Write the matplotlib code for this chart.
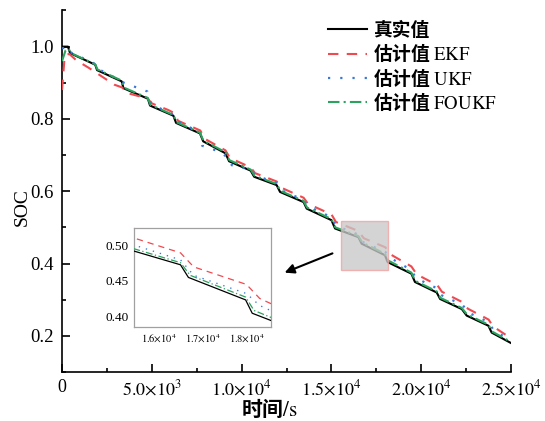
"""SOC estimation comparison: true value vs EKF / UKF / FOUKF estimates."""

import matplotlib
matplotlib.use('Agg')
import matplotlib.pyplot as plt
from matplotlib.patches import Rectangle
from matplotlib.ticker import FixedLocator, MultipleLocator, FuncFormatter

# ---- data ----
t_true = [0, 330, 450, 1850, 1950, 3320, 3420, 4780, 4900, 6200, 6350, 7680, 7860,
          9100, 9300, 10500, 10700, 11950, 12140, 13450, 13620, 15000, 15200, 16500,
          16680, 17980, 18130, 19450, 19650, 20860, 21050, 22260, 22530, 23740, 23920, 25000]
soc_true = [1.000, 1.000, 0.982, 0.950, 0.935, 0.904, 0.885, 0.856, 0.837, 0.809, 0.789,
            0.760, 0.738, 0.705, 0.683, 0.657, 0.640, 0.617, 0.598, 0.570, 0.552, 0.520,
            0.497, 0.473, 0.455, 0.423, 0.404, 0.372, 0.349, 0.320, 0.302, 0.274, 0.256,
            0.228, 0.209, 0.180]

t_ekf = [0, 150, 400, 800, 1500, 2200, 2900, 3350, 3600, 4200, 4750, 5000, 5900, 6300,
         6450, 7700, 7950, 9100, 9350, 10500, 10750, 11950, 12200, 13450, 13700, 15000,
         15250, 16500, 16800, 18000, 18300, 19450, 19750, 20900, 21150, 22300, 22600,
         23750, 24000, 25000]
soc_ekf = [0.880, 0.975, 0.980, 0.962, 0.941, 0.918, 0.895, 0.887, 0.872, 0.864, 0.857,
           0.843, 0.825, 0.815, 0.795, 0.768, 0.745, 0.713, 0.692, 0.666, 0.650, 0.627,
           0.610, 0.582, 0.565, 0.536, 0.515, 0.490, 0.470, 0.445, 0.425, 0.392, 0.370,
           0.340, 0.322, 0.293, 0.275, 0.245, 0.226, 0.193]

t_ukf = [0, 300, 450, 1850, 1950, 3300, 3450, 4750, 4900, 5000, 6200, 6400, 7700, 7800,
         8800, 9300, 9450, 10500, 10750, 11950, 12200, 13450, 13650, 15000, 15250, 16500,
         16800, 18000, 18300, 19450, 19700, 20900, 21100, 22300, 22600, 23750, 24000, 25000]
soc_ukf = [0.995, 1.000, 0.985, 0.952, 0.940, 0.905, 0.900, 0.876, 0.850, 0.840, 0.812,
           0.795, 0.762, 0.726, 0.709, 0.690, 0.672, 0.660, 0.645, 0.622, 0.603, 0.576,
           0.560, 0.528, 0.505, 0.480, 0.458, 0.432, 0.415, 0.382, 0.360, 0.331, 0.313,
           0.286, 0.265, 0.238, 0.218, 0.185]

t_fo = [0, 200, 350, 500, 1850, 1970, 3320, 3430, 4780, 4920, 6200, 6370, 7680, 7870,
        9100, 9320, 10500, 10720, 11950, 12160, 13450, 13640, 15000, 15220, 16500, 16720,
        17980, 18170, 19450, 19670, 20860, 21070, 22260, 22550, 23740, 23940, 25000]
soc_fo = [0.960, 0.990, 0.995, 0.982, 0.951, 0.937, 0.906, 0.887, 0.858, 0.839, 0.811,
          0.791, 0.762, 0.740, 0.708, 0.686, 0.660, 0.643, 0.620, 0.601, 0.573, 0.555,
          0.523, 0.500, 0.476, 0.458, 0.427, 0.408, 0.375, 0.352, 0.323, 0.305, 0.277,
          0.259, 0.231, 0.212, 0.183]

labels = ['真实值', r'估计值 $\mathrm{EKF}$', r'估计值 $\mathrm{UKF}$', r'估计值 $\mathrm{FOUKF}$']
x_ticks = [0, 5000, 10000, 15000, 20000, 25000]
inset_x_ticks = [16000, 17000, 18000]
inset_y_ticks = [0.40, 0.45, 0.50]

RED = '#ef4a50'
BLUE = '#3b78d6'
GREEN = '#2ca25f'
CJK = 'Noto Sans CJK SC'

plt.rcParams.update({
    'font.family': ['Liberation Serif', CJK],
    'mathtext.fontset': 'stix',
    'axes.linewidth': 1.2,
})


def sci_fmt(v, pos=None):
    if v == 0:
        return '0'
    exp = len(str(int(v))) - 1
    mant = v / 10 ** exp
    return r'$%.1f{\times}10^{%d}$' % (mant, exp)


def draw_series(ax, lw_scale=1.0):
    ax.plot(t_true, soc_true, color='black', lw=1.5 * lw_scale, label=labels[0], zorder=3)
    ax.plot(t_ekf, soc_ekf, color=RED, lw=1.5 * lw_scale, dashes=(5, 4), label=labels[1], zorder=4)
    ax.plot(t_ukf, soc_ukf, color=BLUE, lw=1.6 * lw_scale, dashes=(1, 4.5), label=labels[2], zorder=4)
    ax.plot(t_fo, soc_fo, color=GREEN, lw=1.5 * lw_scale, dashes=(5.5, 2, 1, 2), label=labels[3], zorder=5)


fig = plt.figure(figsize=(5.45, 4.21), dpi=100)
ax = fig.add_axes([0.1138, 0.1164, 0.8239, 0.8587])
draw_series(ax)

ax.set_xlim(0, 25000)
ax.set_ylim(0.1, 1.1)
ax.spines['top'].set_visible(False)
ax.spines['right'].set_visible(False)
ax.xaxis.set_major_locator(FixedLocator(x_ticks))
ax.xaxis.set_minor_locator(MultipleLocator(2500))
ax.xaxis.set_major_formatter(FuncFormatter(sci_fmt))
ax.yaxis.set_major_locator(MultipleLocator(0.2))
ax.yaxis.set_minor_locator(MultipleLocator(0.1))
ax.yaxis.set_major_formatter(FuncFormatter(lambda v, p: '%.1f' % v))
ax.tick_params(which='both', direction='in', width=1.2)
ax.tick_params(axis='x', labelsize=13, pad=5)
ax.tick_params(axis='y', labelsize=13.5, pad=6)
ax.tick_params(which='major', length=6)
ax.tick_params(which='minor', length=3)

ax.set_xlabel(r'时间$\mathrm{/s}$', family=CJK, weight='bold', fontsize=15)
ax.xaxis.set_label_coords(0.462, -0.070)
ax.set_ylabel('SOC', fontsize=14)
ax.yaxis.set_label_coords(-0.07, 0.455)

ax.legend(loc='upper left', bbox_to_anchor=(328 / 545, 1 - 21 / 421),
          bbox_transform=fig.transFigure, frameon=False, borderpad=0, borderaxespad=0,
          handlelength=2.1, handletextpad=0.3, labelspacing=0.12,
          prop={'family': CJK, 'weight': 'bold', 'size': 13.5})

# zoom window and arrow
ax.add_patch(Rectangle((15535, 0.381), 2615, 0.138, facecolor='#c8c8c8', alpha=0.78,
                       edgecolor='#f2a0a0', lw=1.0, zorder=6))
ax.annotate('', xy=(12250, 0.372), xytext=(15200, 0.431),
            arrowprops=dict(arrowstyle='-|>', color='black', lw=1.5, mutation_scale=14),
            zorder=7)

# inset
axin = fig.add_axes([0.2464, 0.2226, 0.2503, 0.2352])
draw_series(axin, lw_scale=0.6)
axin.set_xlim(15450, 18550)
axin.set_ylim(0.384, 0.525)
axin.xaxis.set_major_locator(FixedLocator(inset_x_ticks))
axin.xaxis.set_major_formatter(FuncFormatter(sci_fmt))
axin.yaxis.set_major_locator(FixedLocator(inset_y_ticks))
axin.yaxis.set_major_formatter(FuncFormatter(lambda v, p: '%.2f' % v))
axin.tick_params(axis='both', length=0, pad=4)
axin.tick_params(axis='y', labelsize=9.5)
axin.tick_params(axis='x', labelsize=7.5)
for s in axin.spines.values():
    s.set_color('#a0a0a0')
    s.set_linewidth(0.9)

fig.savefig('out.png', dpi=100)
